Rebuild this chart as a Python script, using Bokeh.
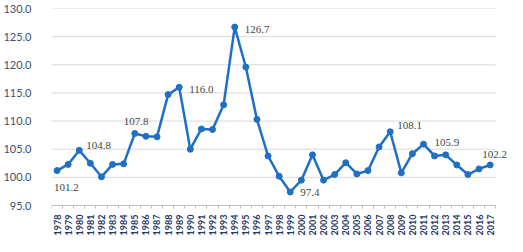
import math
from bokeh.plotting import figure
from bokeh.models import FixedTicker, ColumnDataSource, LabelSet, PrintfTickFormatter
from bokeh.embed import file_html
from bokeh.resources import INLINE

years = list(range(1978, 2018))
values = [101.2, 102.3, 104.8, 102.5, 100.1, 102.3, 102.4, 107.8, 107.3, 107.2,
          114.7, 116.0, 105.0, 108.6, 108.5, 112.9, 126.7, 119.6, 110.3, 103.8,
          100.2, 97.4, 99.5, 104.0, 99.5, 100.5, 102.6, 100.6, 101.2, 105.4,
          108.1, 100.8, 104.2, 105.9, 103.8, 104.0, 102.2, 100.5, 101.5, 102.2]
y_ticks = [95, 100, 105, 110, 115, 120, 125, 130]

labeled_years = [1978, 1980, 1985, 1989, 1994, 1999, 2008, 2011, 2017]
label_dx = [-3, 7, -11, 10, 10, 10, 7, 11, -8]
label_dy = [-17, 5, 12, -2, -2, -1, 6, 2, 10]

BLUE = "#1F6FC5"
FONT = "Lato"

x_lo = years[0] - 0.5
x_hi = years[-1] + 0.5
x_end = x_lo + (x_hi - x_lo) * 463 / 451
y_lo, y_hi = y_ticks[0], y_ticks[-1]
# frame extends below the axis so the rotated year labels sit inside it
y_start = y_lo - (y_hi - y_lo) * 31 / 197

p = figure(width=507, height=236, output_backend="svg", toolbar_location=None,
           x_range=(x_lo, x_end), y_range=(y_start, y_hi),
           min_border_left=44, min_border_right=0, min_border_top=8, min_border_bottom=0)
p.outline_line_color = None
p.xgrid.grid_line_color = None
p.ygrid.grid_line_color = None

grid_y = y_ticks[1:]
p.segment(x0=[x_lo] * len(grid_y), x1=[x_hi] * len(grid_y), y0=grid_y, y1=grid_y,
          line_color="#D9D9D9", line_width=1, level="underlay")

p.yaxis.ticker = FixedTicker(ticks=y_ticks)
p.yaxis.formatter = PrintfTickFormatter(format="%.1f")
p.yaxis.axis_line_color = None
p.yaxis.major_tick_line_color = None
p.yaxis.minor_tick_line_color = None
p.yaxis.major_label_standoff = 14
p.yaxis.major_label_text_font = FONT
p.yaxis.major_label_text_font_size = "11px"
p.yaxis.major_label_text_color = "#3B4F6E"

p.xaxis.fixed_location = y_lo
p.xaxis.bounds = (x_lo, x_hi)
p.xaxis.ticker = FixedTicker(ticks=years, minor_ticks=[y - 0.5 for y in years] + [x_hi])
p.xaxis.axis_line_color = "#BFBFBF"
p.xaxis.major_tick_line_color = None
p.xaxis.minor_tick_line_color = "#BFBFBF"
p.xaxis.minor_tick_out = 3
p.xaxis.minor_tick_in = 0
p.xaxis.major_label_orientation = math.pi / 2
p.xaxis.major_label_standoff = 3
p.xaxis.major_label_text_font = FONT
p.xaxis.major_label_text_font_style = "bold"
p.xaxis.major_label_text_font_size = "9px"
p.xaxis.major_label_text_color = "#1F3864"

src = ColumnDataSource(dict(x=years, y=values))
p.line("x", "y", source=src, line_color=BLUE, line_width=2.5)
p.scatter("x", "y", source=src, size=6, fill_color=BLUE, line_color=BLUE)

lab_vals = [values[years.index(y)] for y in labeled_years]
lsrc = ColumnDataSource(dict(x=labeled_years, y=lab_vals,
                             t=["%.1f" % v for v in lab_vals],
                             dx=label_dx, dy=label_dy))
labels = LabelSet(x="x", y="y", text="t", source=lsrc, x_offset="dx", y_offset="dy",
                  text_align="left", text_baseline="middle",
                  text_font=FONT, text_font_size="11px", text_color="#404848")
p.add_layout(labels)

open("out.html", "w").write(file_html(p, INLINE))
